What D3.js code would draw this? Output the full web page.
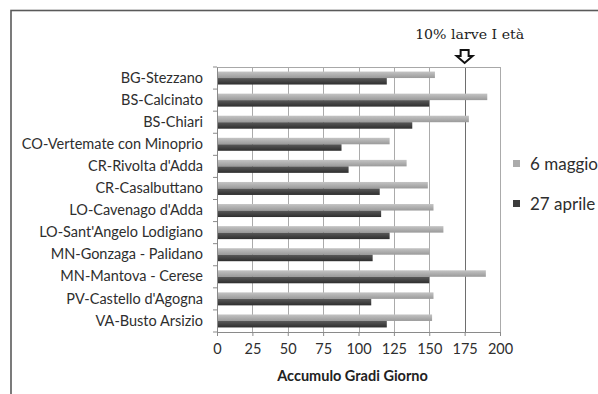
<!DOCTYPE html>
<html><head><meta charset="utf-8">
<script src="https://cdn.jsdelivr.net/npm/d3@7"></script>
<style>html,body{margin:0;padding:0;background:#fff;}</style>
</head><body><svg id="c" width="598" height="394"></svg>
<script>
const categories = ["BG-Stezzano","BS-Calcinato","BS-Chiari","CO-Vertemate con Minoprio","CR-Rivolta d'Adda","CR-Casalbuttano","LO-Cavenago d'Adda","LO-Sant'Angelo Lodigiano","MN-Gonzaga - Palidano","MN-Mantova - Cerese","PV-Castello d'Agogna ","VA-Busto Arsizio"];
const seriesNames = ["6 maggio","27 aprile"];
const maggio6 = [154,191,178,122,134,149,153,160,150,190,153,152];
const aprile27 = [120,150,138,88,93,115,116,122,110,150,109,120];
const xTicks = [0,25,50,75,100,125,150,175,200];
const xTitle = "Accumulo Gradi Giorno";
const thresholdValue = 175;
const thresholdLabel = "10% larve I età";

const svg = d3.select("#c");
const m = {l:217, r:500, t:67, b:332};
const x = d3.scaleLinear().domain([0,200]).range([m.l, m.r]);
const y = d3.scaleBand().domain(categories).range([m.t, m.b]);
const ys = d3.scaleBand().domain(seriesNames).range([0, y.bandwidth()]).paddingOuter(0.7);
const colors = {"6 maggio":"#ababab","27 aprile":"#3c3c3c"};
const values = {"6 maggio":maggio6,"27 aprile":aprile27};

// outer frame
svg.append("rect").attr("x",11).attr("y",10.5).attr("width",600).attr("height",400)
  .attr("fill","none").attr("stroke","#5a5a5a").attr("stroke-width",1.6);

// gridlines
svg.append("g").selectAll("line").data(xTicks.slice(1)).join("line")
  .attr("x1",d=>Math.round(x(d))+0.5).attr("x2",d=>Math.round(x(d))+0.5)
  .attr("y1",m.t).attr("y2",m.b)
  .attr("stroke",d=>d===thresholdValue?"#6e6e6e":"#ababab").attr("stroke-width",1);
// plot border top
svg.append("line").attr("x1",m.l).attr("x2",m.r).attr("y1",m.t+0.5).attr("y2",m.t+0.5).attr("stroke","#a8a8a8");

// gradients
const defs = svg.append("defs");
[["g0","#c4c4c4","#9a9a9a"],["g1","#5a5a5a","#2e2e2e"]].forEach(([id,a,b])=>{
  const g = defs.append("linearGradient").attr("id",id).attr("x1",0).attr("x2",0).attr("y1",0).attr("y2",1);
  g.append("stop").attr("offset","0%").attr("stop-color",a);
  g.append("stop").attr("offset","100%").attr("stop-color",b);
});

// bars
seriesNames.forEach((s,si)=>{
  svg.append("g").selectAll("rect").data(categories).join("rect")
    .attr("x",x(0)).attr("y",(c)=>y(c)+ys(s))
    .attr("width",(c,i)=>x(values[s][i])-x(0)).attr("height",ys.bandwidth())
    .attr("fill",`url(#g${si})`);
});

// x axis
const xa = svg.append("g").attr("transform",`translate(0,${m.b})`)
  .call(d3.axisBottom(x).tickValues(xTicks).tickSize(4).tickPadding(8));
xa.select(".domain").attr("stroke","#8a8a8a");
xa.selectAll(".tick line").attr("stroke","#8a8a8a");
xa.selectAll("text").attr("font-family","Lato").attr("font-size","14.5px").attr("fill","#2e2e2e");

// y axis
const ya = svg.append("g").attr("transform",`translate(${m.l},0)`)
  .call(d3.axisLeft(y).tickSize(0).tickPadding(14));
ya.select(".domain").attr("stroke","#8a8a8a");
ya.selectAll("text").attr("font-family","Lato").attr("font-size","14.5px").attr("fill","#2e2e2e");
// y category ticks at band edges
svg.append("g").selectAll("line").data(categories.concat([null])).join("line")
  .attr("x1",m.l-4).attr("x2",m.l)
  .attr("y1",(c,i)=>m.t+i*y.step()).attr("y2",(c,i)=>m.t+i*y.step())
  .attr("stroke","#8a8a8a");

// x title
svg.append("text").attr("x",(m.l+m.r)/2 - 6).attr("y",381).attr("text-anchor","middle")
  .attr("font-family","Lato").attr("font-weight","bold").attr("font-size","14.5px").attr("fill","#222")
  .text(xTitle);

// threshold annotation
const tx = x(thresholdValue);
svg.append("text").attr("x",tx+5).attr("y",39).attr("text-anchor","middle")
  .attr("font-family","DejaVu Serif").attr("font-size","13.5px").attr("fill","#222")
  .attr("textLength",109).attr("lengthAdjust","spacingAndGlyphs")
  .text(thresholdLabel);
const ax = tx, at = 50, ab = 63;
svg.append("path")
  .attr("d",`M${ax-4},${at} L${ax+4},${at} L${ax+4},${at+6} L${ax+8},${at+6} L${ax},${ab} L${ax-8},${at+6} L${ax-4},${at+6} Z`)
  .attr("fill","#fff").attr("stroke","#111").attr("stroke-width",2).attr("stroke-linejoin","miter");

// legend
const lg = svg.append("g");
seriesNames.forEach((s,i)=>{
  const ly = 164 + i*40;
  lg.append("rect").attr("x",513).attr("y",ly-4).attr("width",7).attr("height",7).attr("fill",colors[s]);
  lg.append("text").attr("x",530).attr("y",ly).attr("dy","0.35em")
    .attr("font-family","Lato").attr("font-size","17px").attr("fill","#2e2e2e").text(s);
});
</script></body></html>
